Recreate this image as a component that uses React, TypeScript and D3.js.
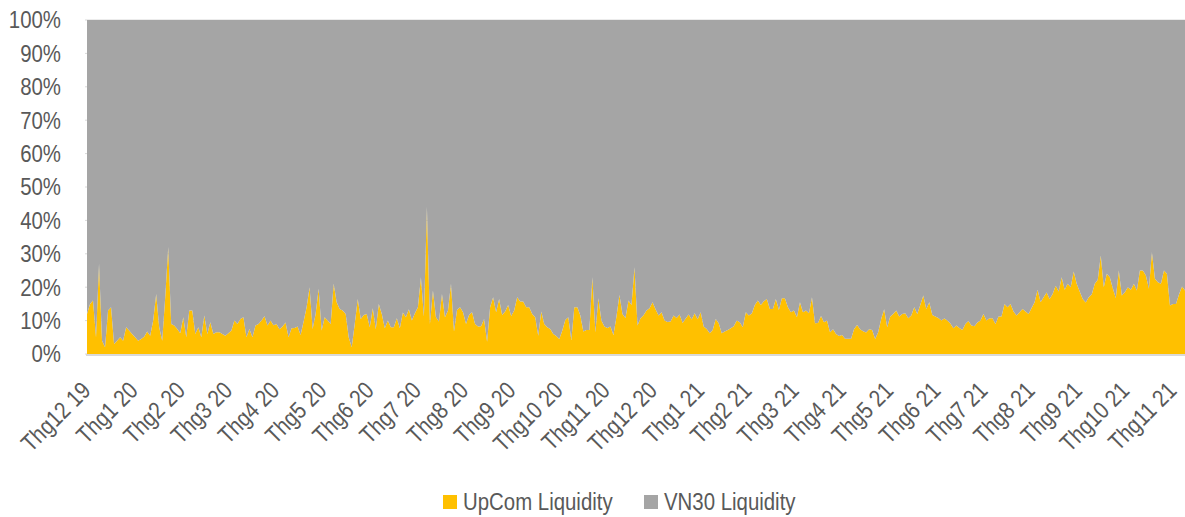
import React from 'react';
import * as d3 from 'd3';

// UpCom share of (UpCom + VN30) liquidity, % left to right
const upcomShare = [
  12, 15, 16, 5, 27, 4, 2, 13, 14, 3,
  4, 5, 4, 8, 7, 6, 5, 4, 4.5, 5.2,
  6.7, 5.5, 10, 18, 8, 4, 17, 32, 9, 8.5,
  7.5, 6.2, 11, 5, 13, 13, 6, 8, 5, 11.5,
  6, 9.5, 6, 6.5, 6.5, 6, 5.5, 6.2, 7, 10,
  9, 10.5, 11, 5, 7.5, 5, 8.5, 9, 10, 11.3,
  8.5,
  10, 8.6, 9, 7.4, 8.2, 9.4, 5, 7.7, 7.8, 8.2,
  5.7, 9.7, 14, 20, 7.5, 12, 19.5, 7, 11, 10,
  9, 21, 15.5, 13.5, 13, 12, 5, 2, 9, 16.5,
  10.5, 11.7, 12, 8, 13.7, 7.4, 15, 12, 7.7, 10,
  8, 8, 10.7, 7.7, 12.4, 11, 13.4, 10, 12.2, 14,
  23, 11.2, 44, 9, 19, 11, 9.7, 18, 11, 13,
  21,
  6.7, 13.2, 14, 12.5, 9, 11.7, 12.5, 9, 8.2, 8.3,
  10.5, 3.7, 14, 17, 12.5, 16.5, 11.7, 12.7, 14.7, 11.4,
  13, 17, 15.7, 15.7, 14, 14, 12, 11, 5.5, 12.7,
  9, 8, 7.5, 6, 5.4, 4.5, 7, 10.2, 11, 4.2,
  14, 14, 11.5, 6.7, 7.2, 7.2, 23, 6.5, 16.7, 10,
  8.2, 7.8, 8.2, 5.7, 11.2, 17.7, 12, 10.8, 16, 14.7,
  26, 8.5, 10.7, 11.6, 13, 13.7, 15.5, 13.4, 11.5, 12.5,
  10, 9.6, 9.7, 11.5, 10.8, 11.8, 9.3, 10.6, 11.8, 10.3,
  12.2, 10.4, 12.5, 8.2, 7.5, 6.2, 7.2, 10.5, 9.2, 6.2,
  6.7, 7.2, 7.7, 8.3, 10, 9.5, 8, 12.5, 11.5, 12.1,
  14.7, 16, 14.7, 15.8, 16.5, 13.5, 13.5, 16.5, 13.2, 16.7,
  16.7, 14, 12.5, 13, 11, 15.5, 12.5, 13, 12.2, 17,
  9.2,
  9.3, 11.4, 9.5, 10, 6.5, 7.4, 6, 5.4, 5.7, 4.6,
  4.6, 4.6, 7.5, 8.7, 7.4, 6.8, 6.4, 7.4, 7.2, 4.5,
  6.5, 10.5, 13.4, 8, 11.2, 12, 13, 11.2, 12, 12.2,
  10.7, 11.5, 14, 12, 14.7, 17.5, 13.5, 15.5, 11.7, 11.2,
  10.8, 10, 10.6, 10, 9.1, 7.7, 8.5, 7.8, 7.2, 9,
  9.9, 8.5, 8.3, 9.4, 10, 12, 10, 10.7, 10.7, 9,
  11.2,
  11.2, 15, 14, 15, 12.7, 11.5, 12.5, 13.5, 12.7, 12,
  13.8, 15.5, 19.2, 15.5, 17, 18.4, 16.5, 18, 20.4, 18.7,
  23, 19.2, 21, 20, 24.7, 21, 18.7, 16.5, 15.4, 17,
  17.8, 21, 22.2, 29.5, 20, 24, 23, 19.7, 16.8, 25,
  17.5, 18.5, 20, 19.2, 21, 19, 25, 25, 23.5, 19.5,
  30.5, 22.5, 21.5, 21, 25, 24, 14.5, 15, 15, 17.8,
  20.2, 19,
];

const monthLabels = [
  'Thg12 19', 'Thg1 20', 'Thg2 20', 'Thg3 20', 'Thg4 20', 'Thg5 20', 'Thg6 20',
  'Thg7 20', 'Thg8 20', 'Thg9 20', 'Thg10 20', 'Thg11 20', 'Thg12 20', 'Thg1 21',
  'Thg2 21', 'Thg3 21', 'Thg4 21', 'Thg5 21', 'Thg6 21', 'Thg7 21', 'Thg8 21',
  'Thg9 21', 'Thg10 21', 'Thg11 21',
];

const yTicks = [0, 10, 20, 30, 40, 50, 60, 70, 80, 90, 100];

const seriesNames = ['UpCom Liquidity', 'VN30 Liquidity'];
const seriesColors = ['#ffc000', '#a5a5a5'];

// no narrow face installed, so squeeze Liberation Sans horizontally (Arial Narrow look)
const FONT = "'Liberation Sans', Arial, sans-serif";
const NARROW = 'scale(0.85,1)';
const FS = 24;
const TEXT = '#595959';

export default function App() {
  const rows = upcomShare.map((u, i) => ({ i, upcom: u, vn30: 100 - u }));
  const series = d3.stack<any>().keys(['upcom', 'vn30'])(rows);

  const x = d3.scaleLinear().domain([0, upcomShare.length - 1]).range([87, 1185]);
  const y = d3.scaleLinear().domain([0, 100]).range([354, 20]);
  const xl = d3.scalePoint().domain(monthLabels).range([92, 1178]);

  const area = d3
    .area<any>()
    .x(d => x(d.data.i))
    .y0(d => y(d[0]))
    .y1(d => y(d[1]));

  return (
    <svg
      width={1185}
      height={517}
      style={{ position: 'absolute', left: 0, top: 0, background: '#fff' }}
      fontFamily={FONT}
    >
      {yTicks.map(t => (
        <line key={'g' + t} x1={85} x2={1185} y1={y(t)} y2={y(t)} stroke="#d9d9d9" strokeWidth={1} />
      ))}
      {series.map((s, k) => (
        <path key={s.key} d={area(s) || ''} fill={seriesColors[k]} />
      ))}
      <line x1={86} x2={1185} y1={355} y2={355} stroke="#d9d9d9" strokeWidth={2} />

      {yTicks.map(t => (
        <text
          key={'y' + t}
          transform={`translate(61,${y(t)}) ${NARROW}`}
          dy="0.35em"
          textAnchor="end"
          fontSize={FS}
          fill={TEXT}
        >
          {t + '%'}
        </text>
      ))}

      {monthLabels.map(m => (
        <text
          key={m}
          transform={`translate(${xl(m)},392) rotate(-45) ${NARROW}`}
          textAnchor="end"
          fontSize={FS}
          fill={TEXT}
        >
          {m}
        </text>
      ))}

      {seriesNames.map((n, k) => {
        const lx = k === 0 ? 443 : 644;
        return (
          <g key={n}>
            <rect x={lx} y={495} width={14} height={14} fill={seriesColors[k]} />
            <text transform={`translate(${lx + 20},510) ${NARROW}`} fontSize={FS} fill={TEXT}>
              {n}
            </text>
          </g>
        );
      })}
    </svg>
  );
}
